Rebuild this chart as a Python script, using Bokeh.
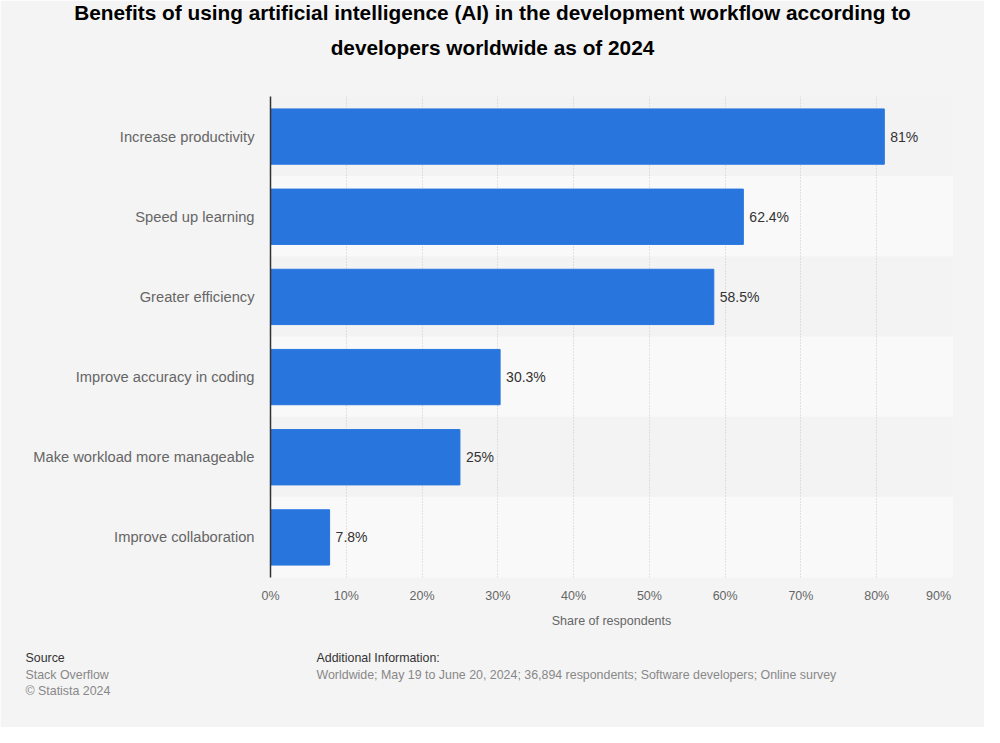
from bokeh.plotting import figure
from bokeh.models import Label, LabelSet, ColumnDataSource, FactorRange, PrintfTickFormatter, FixedTicker
from bokeh.core.properties import value
from bokeh.embed import file_html
from bokeh.resources import INLINE

categories = ["Increase productivity", "Speed up learning", "Greater efficiency",
              "Improve accuracy in coding", "Make workload more manageable", "Improve collaboration"]
values = [81, 62.4, 58.5, 30.3, 25, 7.8]
value_labels = ["81%", "62.4%", "58.5%", "30.3%", "25%", "7.8%"]
x_ticks = [0, 10, 20, 30, 40, 50, 60, 70, 80, 90]
last_tick_label = "90%"

title_text = ("Benefits of using artificial intelligence (AI) in the development workflow according to\n"
              "developers worldwide as of 2024")
source_head = "Source"
source_body = "Stack Overflow\n\u00a9 Statista 2024"
info_head = "Additional Information:"
info_body = "Worldwide; May 19 to June 20, 2024; 36,894 respondents; Software developers; Online survey"

FONT = "Liberation Sans"
BG = "#f4f4f4"

p = figure(width=984, height=727, output_backend="svg", toolbar_location=None,
           y_range=FactorRange(factors=categories[::-1]), x_range=(0, 90),
           min_border_left=270, min_border_right=32, min_border_top=96, min_border_bottom=150,
           background_fill_color=BG, border_fill_color=BG, outline_line_color=None)

band_src = ColumnDataSource(dict(y=categories, left=[0] * 6, right=[90] * 6,
                                 color=["#f3f3f3" if i % 2 == 0 else "#f9f9f9" for i in range(6)]))
p.hbar(y="y", left="left", right="right", height=1.0, color="color", source=band_src, level="underlay")

src = ColumnDataSource(dict(y=categories, v=values, lab=value_labels))
p.hbar(y="y", left=0, right="v", height=0.69, fill_color="#2876dd", line_color="#2876dd", source=src)

p.add_layout(LabelSet(x="v", y="y", text="lab", source=src, x_offset=6, text_baseline="middle",
                      text_font=value(FONT), text_font_size=value("14px"), text_color=value("#333333")))

p.xgrid.ticker = FixedTicker(ticks=x_ticks)
p.xgrid.grid_line_color = "#c8c8c8"
p.xgrid.grid_line_dash = "1 2"
p.xgrid.level = "underlay"
p.ygrid.grid_line_color = None

p.xaxis.ticker = FixedTicker(ticks=x_ticks)
p.xaxis.formatter = PrintfTickFormatter(format="%d%%")
p.xaxis.major_label_overrides = {x_ticks[-1]: ""}
p.xaxis.axis_line_color = None
p.xaxis.major_tick_line_color = None
p.xaxis.minor_tick_line_color = None
p.xaxis.major_tick_out = 0
p.xaxis.major_tick_in = 0
p.xaxis.major_label_standoff = 11
p.xaxis.major_label_text_font = FONT
p.xaxis.major_label_text_font_size = "12.5px"
p.xaxis.major_label_text_color = "#666666"
p.xaxis.axis_label = "Share of respondents"
p.xaxis.axis_label_text_font = FONT
p.xaxis.axis_label_text_font_size = "12.5px"
p.xaxis.axis_label_text_font_style = "normal"
p.xaxis.axis_label_text_color = "#666666"
p.xaxis.axis_label_standoff = 8

p.yaxis.axis_line_color = "#333333"
p.yaxis.axis_line_width = 1.5
p.yaxis.major_tick_line_color = None
p.yaxis.major_tick_out = 0
p.yaxis.major_tick_in = 0
p.yaxis.major_label_standoff = 16
p.yaxis.major_label_text_font = FONT
p.yaxis.major_label_text_font_size = "14.7px"
p.yaxis.major_label_text_color = "#666666"


def side_label(side, text, size, color, style="normal", align="left", x=0, y=0, lh=1.2):
    p.add_layout(Label(x=x, y=y, x_units="screen", y_units="screen", text=text, text_align=align,
                       text_baseline="top", text_font=FONT, text_font_size=size, text_line_height=lh,
                       text_color=color, text_font_style=style), side)


side_label("above", title_text, "20.8px", "#000000", "bold", "center", x=222, y=96, lh=1.55)
# last tick label, pulled inside the plot edge as in the reference
side_label("below", last_tick_label, "12.5px", "#666666", align="center", x=668, y=56)
side_label("below", source_head, "12.4px", "#333333", x=-245, y=8)
side_label("below", info_head, "12.4px", "#333333", x=46, y=22)
side_label("below", source_body, "12.4px", "#888888", x=-245, y=36)
side_label("below", info_body, "12.4px", "#888888", x=46, y=50)

open("out.html", "w").write(file_html(p, INLINE))
